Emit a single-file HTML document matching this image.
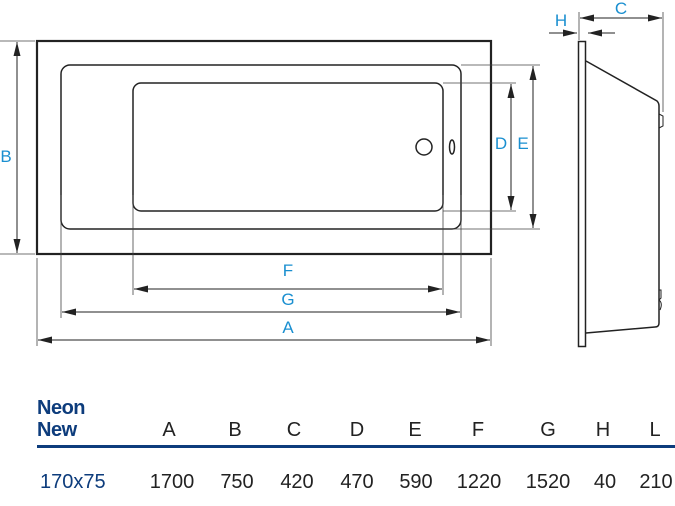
<!DOCTYPE html>
<html><head><meta charset="utf-8"><style>
body{margin:0;background:#fff;}
svg{display:block;}
</style></head><body>
<svg width="675" height="506" viewBox="0 0 675 506" xmlns="http://www.w3.org/2000/svg" font-family="Liberation Sans, sans-serif">
<defs>
<marker id="ar" viewBox="0 0 14 8" refX="14" refY="4" markerWidth="14" markerHeight="8" orient="auto-start-reverse" markerUnits="userSpaceOnUse"><path d="M0,0.5 L14,4 L0,7.5 Z" fill="#222"/></marker>
</defs>
<g fill="none" stroke="#222">
<rect x="37" y="41" width="454" height="213" stroke-width="2.2"/>
<rect x="61" y="65" width="400" height="164" rx="9" stroke-width="1.5"/>
<rect x="133" y="83" width="310" height="128" rx="8" stroke-width="1.5"/>
<circle cx="424" cy="147" r="8" stroke-width="1.5"/>
<ellipse cx="452" cy="147" rx="2.5" ry="7" stroke-width="1.5"/>
<g stroke-width="0.8" stroke="#444">
<line x1="0" y1="41" x2="35" y2="41"/><line x1="0" y1="254" x2="35" y2="254"/>
<line x1="443" y1="83" x2="516" y2="83"/><line x1="443" y1="211" x2="516" y2="211"/>
<line x1="461" y1="65" x2="540" y2="65"/><line x1="420" y1="229" x2="540" y2="229"/>
<line x1="133" y1="195" x2="133" y2="295"/><line x1="443" y1="195" x2="443" y2="295"/>
<line x1="61" y1="195" x2="61" y2="318"/><line x1="461" y1="195" x2="461" y2="318"/>
<line x1="37" y1="258" x2="37" y2="346"/><line x1="491" y1="258" x2="491" y2="346"/>
<line x1="663" y1="12" x2="663" y2="112"/><line x1="579" y1="12" x2="579" y2="40"/>
</g>
<g stroke-width="1" marker-start="url(#ar)" marker-end="url(#ar)">
<line x1="17" y1="42" x2="17" y2="253"/>
<line x1="511" y1="84" x2="511" y2="210"/>
<line x1="533" y1="66" x2="533" y2="228"/>
<line x1="134" y1="289" x2="442" y2="289"/>
<line x1="62" y1="312" x2="460" y2="312"/>
<line x1="38" y1="340" x2="490" y2="340"/>
<line x1="580" y1="18" x2="662" y2="18"/>
</g>
<g stroke-width="1" marker-end="url(#ar)">
<line x1="549" y1="33" x2="577" y2="33"/>
<line x1="615" y1="33" x2="588" y2="33"/>
</g>
<rect x="578.5" y="41.5" width="7" height="305" stroke-width="1.5"/>
<path d="M586,61 L657,101 Q659,103 659,106 L659,323 Q659,327 655,327 L586,333" stroke-width="1.5"/>
<path d="M659,114 L663,116 L663,126 L659,128" stroke-width="1"/>
<path d="M659,290 L661,290 L661,298 L659,300 M659,300 Q663,303 660,310" stroke-width="1"/>
</g>
<g fill="#1a8fd0" font-size="17" text-anchor="middle">
<text x="6" y="162">B</text>
<text x="501" y="149">D</text>
<text x="523" y="149">E</text>
<text x="288" y="276">F</text>
<text x="288" y="305">G</text>
<text x="288" y="333">A</text>
<text x="561" y="26">H</text>
<text x="621" y="14">C</text>
</g>
<g fill="#0d3c7c" font-size="20" font-weight="bold" letter-spacing="-0.5">
<text x="37" y="414">Neon</text>
<text x="37" y="436">New</text>
</g>
<rect x="37" y="445" width="638" height="3" fill="#0d3c7c"/>
<g fill="#222" font-size="20" text-anchor="middle">
<text x="169" y="436">A</text><text x="235" y="436">B</text><text x="294" y="436">C</text>
<text x="357" y="436">D</text><text x="415" y="436">E</text><text x="478" y="436">F</text>
<text x="548" y="436">G</text><text x="603" y="436">H</text><text x="655" y="436">L</text>
<text x="172" y="488">1700</text><text x="237" y="488">750</text><text x="297" y="488">420</text>
<text x="357" y="488">470</text><text x="416" y="488">590</text><text x="479" y="488">1220</text>
<text x="548" y="488">1520</text><text x="605" y="488">40</text><text x="656" y="488">210</text>
</g>
<text x="40" y="488" fill="#0d3c7c" font-size="20">170x75</text>
</svg>
</body></html>
